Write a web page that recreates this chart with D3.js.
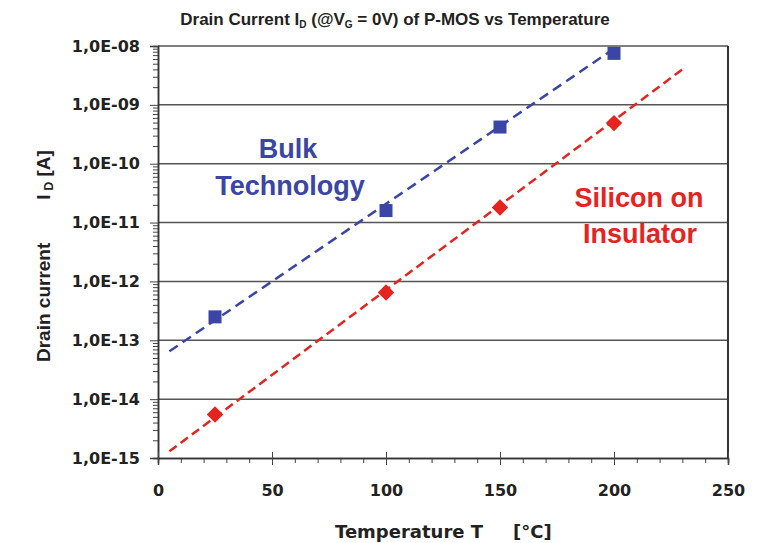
<!DOCTYPE html>
<html>
<head>
<meta charset="utf-8">
<script src="https://cdn.jsdelivr.net/npm/d3@7/dist/d3.min.js"></script>
<style>
  html, body { margin: 0; padding: 0; background: #fff; }
  svg { display: block; }
</style>
</head>
<body>
<svg id="chart" width="767" height="543"></svg>
<script>
// ---- data ----
const temperatures = [25, 100, 150, 200];
const bulkCurrent = [2.5e-13, 1.6e-11, 4.2e-10, 7.5e-9];
const soiCurrent = [5.5e-15, 6.5e-13, 1.8e-11, 4.9e-10];
// dashed exponential trend lines (end points)
const bulkTrendT = [5, 200];
const bulkTrendI = [6.5e-14, 9.0e-9];
const soiTrendT = [5, 230];
const soiTrendI = [1.3e-15, 4.0e-9];
// axes
const xTicks = [0, 50, 100, 150, 200, 250];
const xMinorTicks = d3.range(0, 251, 10);
const yDecades = [1e-15, 1e-14, 1e-13, 1e-12, 1e-11, 1e-10, 1e-9, 1e-8];

const blue = "#3a45a6";
const red = "#e5231f";

const svg = d3.select("#chart");
const x = d3.scaleLinear().domain([0, 250]).range([158, 728]);
const y = d3.scaleLog().domain([1e-15, 1e-8]).range([458, 46]);

// gridlines
svg.append("g").selectAll("line").data(yDecades.slice(1)).join("line")
  .attr("x1", x(0)).attr("x2", x(250))
  .attr("y1", d => y(d)).attr("y2", d => y(d))
  .attr("stroke", "#555").attr("stroke-width", 1.5);

// right border
svg.append("line").attr("x1", x(250)).attr("x2", x(250))
  .attr("y1", y(1e-8)).attr("y2", y(1e-15))
  .attr("stroke", "#333").attr("stroke-width", 2);

// y axis with minor ticks
const yMinor = [];
yDecades.slice(0, -1).forEach(d => { for (let k = 2; k <= 9; k++) yMinor.push(d * k); });
const fmtY = d => {
  const e = Math.round(Math.log10(d));
  return "1,0E" + (e < 0 ? "-" : "+") + String(Math.abs(e)).padStart(2, "0");
};
const yAxis = svg.append("g").attr("transform", `translate(${x(0)},0)`);
yAxis.call(d3.axisLeft(y).tickValues(yMinor).tickSize(5).tickFormat(""));
yAxis.append("g").call(d3.axisLeft(y).tickValues(yDecades).tickSize(8).tickPadding(10).tickFormat(fmtY));
yAxis.selectAll(".domain").attr("stroke", "#333").attr("stroke-width", 1.5);
yAxis.selectAll(".tick line").attr("stroke", "#444");
yAxis.selectAll("text")
  .attr("font-family", "DejaVu Sans").attr("font-weight", "bold")
  .attr("font-size", 16).attr("fill", "#222");

// x axis
const xAxis = svg.append("g").attr("transform", `translate(0,${y(1e-15)})`);
xAxis.call(d3.axisBottom(x).tickValues(xMinorTicks).tickSize(5).tickFormat(""));
const xMajor = xAxis.append("g").call(d3.axisBottom(x).tickValues(xTicks).tickSize(7).tickPadding(20).tickFormat(d3.format("d")));
xMajor.selectAll(".tick line").attr("y1", -6);
xAxis.selectAll(".domain").attr("stroke", "#333").attr("stroke-width", 1.5);
xAxis.selectAll(".tick line").attr("stroke", "#444");
xAxis.selectAll("text")
  .attr("font-family", "DejaVu Sans").attr("font-weight", "bold")
  .attr("font-size", 16).attr("fill", "#222");

// trend lines
const line = d3.line().x(d => x(d[0])).y(d => y(d[1]));
svg.append("path").datum(d3.zip(bulkTrendT, bulkTrendI)).attr("d", line)
  .attr("fill", "none").attr("stroke", blue).attr("stroke-width", 2.5)
  .attr("stroke-dasharray", "10,6");
svg.append("path").datum(d3.zip(soiTrendT, soiTrendI)).attr("d", line)
  .attr("fill", "none").attr("stroke", red).attr("stroke-width", 2.5)
  .attr("stroke-dasharray", "9,5");

// markers
svg.append("g").selectAll("rect").data(d3.zip(temperatures, bulkCurrent)).join("rect")
  .attr("x", d => x(d[0]) - 6.5).attr("y", d => y(d[1]) - 6.5)
  .attr("width", 13).attr("height", 13).attr("fill", blue);
svg.append("g").selectAll("path").data(d3.zip(temperatures, soiCurrent)).join("path")
  .attr("transform", d => `translate(${x(d[0])},${y(d[1])}) rotate(45)`)
  .attr("d", d3.symbol().type(d3.symbolSquare).size(135))
  .attr("fill", red);

// annotations
const ann = (txt, cx, by, col) => svg.append("text").attr("x", cx).attr("y", by)
  .attr("text-anchor", "middle").attr("font-family", "Liberation Sans, Arial")
  .attr("font-weight", "bold").attr("font-size", 27).attr("fill", col).text(txt);
ann("Bulk", 288, 158, blue);
ann("Technology", 290, 195, blue);
ann("Silicon on", 639, 207, red);
ann("Insulator", 640, 243, red);

// title
const title = svg.append("text").attr("x", 395).attr("y", 25).attr("text-anchor", "middle")
  .attr("font-family", "Liberation Sans, Arial").attr("font-weight", "bold")
  .attr("font-size", 17).attr("fill", "#222");
title.append("tspan").text("Drain Current I");
title.append("tspan").attr("font-size", 10).attr("dy", 3).text("D");
title.append("tspan").attr("dy", -3).text(" (@V");
title.append("tspan").attr("font-size", 10).attr("dy", 3).text("G");
title.append("tspan").attr("dy", -3).text(" = 0V) of P-MOS vs Temperature");

// x title
const xt = svg.append("text").attr("x", 335).attr("y", 538)
  .attr("font-family", "DejaVu Sans").attr("font-weight", "bold")
  .attr("font-size", 18).attr("fill", "#222");
xt.append("tspan").text("Temperature T");
xt.append("tspan").attr("x", 513).text("[°C]");

// y title
const yt = svg.append("text").attr("transform", "translate(50,362) rotate(-90)")
  .attr("font-family", "Liberation Sans, Arial").attr("font-weight", "bold")
  .attr("font-size", 19).attr("fill", "#222");
yt.append("tspan").text("Drain current");
yt.append("tspan").attr("dx", 43).text("I");
yt.append("tspan").attr("font-size", 12).attr("dx", 4).attr("dy", 3).text("D");
yt.append("tspan").attr("dy", -3).text(" [A]");
</script>
</body>
</html>
